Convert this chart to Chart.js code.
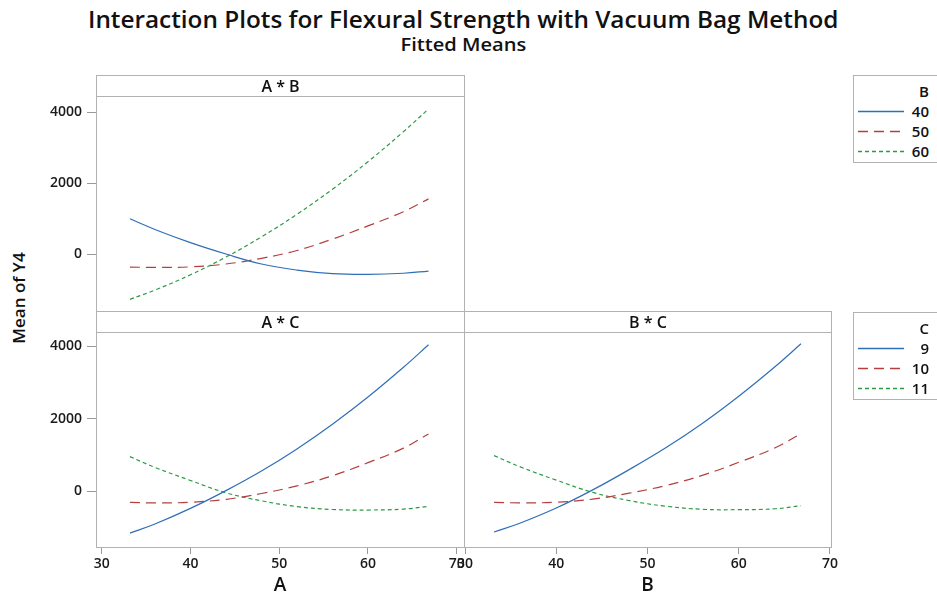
<!DOCTYPE html>
<html>
<head>
<meta charset="utf-8">
<script src="https://cdn.jsdelivr.net/npm/chart.js@4.4.1/dist/chart.umd.min.js"></script>
<style>
  body { margin: 0; background: #fff; width: 937px; height: 599px; position: relative; overflow: hidden; font-family: "Open Sans", sans-serif; color: #111; }
  canvas { position: absolute; }
  .txt { position: absolute; white-space: nowrap; font-weight: 600; }
  .frame { position: absolute; border: 1px solid #b2b2b2; box-sizing: border-box; pointer-events: none; }
  .strip { position: absolute; left: 0; right: 0; top: 0; height: 21px; border-bottom: 1px solid #b2b2b2; box-sizing: border-box; text-align: center; font-weight: 600; font-size: 16px; line-height: 20px; }
  .legend { position: absolute; left: 853px; width: 95px; height: 88px; border: 1px solid #b2b2b2; box-sizing: border-box; font-weight: 600; font-size: 15px; }
  .legend .row { position: absolute; left: 0; width: 75px; height: 20px; }
  .legend .row span { position: absolute; right: 0; top: 0; line-height: 20px; }
  .legend canvas { position: absolute; left: 4px; top: 4px; }
</style>
</head>
<body>
<div class="txt" id="title" style="top:2px;font-size:24px">Interaction Plots for Flexural Strength with Vacuum Bag Method</div>
<div class="txt" id="subtitle" style="top:32px;font-size:18px">Fitted Means</div>
<div class="txt" id="ytitle" style="font-size:17px;left:18px;top:298px;transform:translate(-50%,-50%) rotate(-90deg)">Mean of Y4</div>

<canvas id="cAB" width="470" height="250" style="left:0;top:70px"></canvas>
<canvas id="cAC" width="480" height="299" style="left:0;top:300px"></canvas>
<canvas id="cBC" width="493" height="299" style="left:444px;top:300px"></canvas>

<div class="frame" style="left:96px;top:75px;width:369px;height:237px"><div class="strip">A * B</div></div>
<div class="frame" style="left:96px;top:311px;width:369px;height:237px"><div class="strip">A * C</div></div>
<div class="frame" style="left:464px;top:311px;width:368px;height:237px"><div class="strip">B * C</div></div>

<div class="legend" id="legB" style="top:75px"></div>
<div class="legend" id="legC" style="top:312px"></div>

<script>
// factor levels on the horizontal axes
const xLevels = [33.18, 36, 40, 44, 48, 52, 56, 60, 64, 66.82];
const xTicks = [30, 40, 50, 60, 70];
const yTicks = [0, 2000, 4000];

// A * B panel, one curve per level of B
const abB40 = [1000, 700, 330, 10, -270, -440, -540, -562, -530, -468];
const abB50 = [-356, -365, -350, -270, -110, 110, 430, 800, 1200, 1560];
const abB60 = [-1262, -1002, -573, -75, 491, 1127, 1831, 2605, 3448, 4084];

// A * C panel, one curve per level of C
const acC9 = [-1150, -900, -470, 20, 560, 1170, 1850, 2600, 3420, 4040];
const acC10 = [-305, -320, -300, -220, -60, 150, 430, 790, 1190, 1580];
const acC11 = [957, 660, 300, -40, -260, -420, -500, -515, -490, -414];

// B * C panel, one curve per level of C
const bcC9 = [-1121, -880, -460, 40, 600, 1200, 1870, 2620, 3440, 4066];
const bcC10 = [-303, -318, -300, -215, -50, 160, 440, 800, 1200, 1592];
const bcC11 = [985, 680, 310, -30, -255, -410, -495, -505, -480, -395];

const levelsB = ['40', '50', '60'];
const levelsC = ['9', '10', '11'];

const styles = [
  { color: '#2f6fb8', dash: [] },
  { color: '#b3403f', dash: [10, 6] },
  { color: '#2b9a44', dash: [4, 3] }
];

const FONT = '"Open Sans", sans-serif';

function makeSets(labels, series) {
  return series.map((vals, i) => ({
    label: labels[i],
    data: vals.map((v, j) => ({ x: xLevels[j], y: v })),
    borderColor: styles[i].color,
    borderDash: styles[i].dash,
    borderWidth: 1.2,
    pointRadius: 0,
    tension: 0.4,
    fill: false
  }));
}

function panel(id, o) {
  return new Chart(document.getElementById(id), {
    type: 'line',
    data: { datasets: makeSets(o.labels, o.series) },
    options: {
      responsive: false,
      animation: false,
      devicePixelRatio: 1,
      layout: { padding: o.padding },
      plugins: { legend: { display: false }, tooltip: { enabled: false } },
      scales: {
        x: {
          type: 'linear',
          min: o.xMin, max: o.xMax,
          display: o.showX,
          afterBuildTicks: s => { s.ticks = xTicks.map(v => ({ value: v })); },
          afterFit: s => { s.height = o.showX ? 52 : 0; s.paddingLeft = 0; s.paddingRight = 0; },
          ticks: { callback: v => String(v), font: { family: FONT, size: 14, weight: '600' }, color: '#1a1a1a', padding: 2, maxRotation: 0 },
          grid: { display: true, drawOnChartArea: false, drawTicks: true, tickLength: 7, color: '#999' },
          border: { display: false },
          title: { display: o.showX, text: o.xTitle, font: { family: FONT, size: 19, weight: '600' }, color: '#111', padding: { top: 0, bottom: 2 } }
        },
        y: {
          type: 'linear',
          min: o.yMin, max: o.yMax,
          afterBuildTicks: s => { s.ticks = yTicks.map(v => ({ value: v })); },
          afterFit: s => { s.width = o.yWidth; s.paddingTop = 0; s.paddingBottom = 0; },
          ticks: { display: o.showY, callback: v => String(v), font: { family: FONT, size: 14, weight: '600' }, color: '#1a1a1a', padding: 5 },
          grid: { display: o.showY, drawOnChartArea: false, drawTicks: true, tickLength: 9, color: '#999' },
          border: { display: false }
        }
      }
    }
  });
}

const chAB = panel('cAB', {
  labels: levelsB, series: [abB40, abB50, abB60],
  xMin: 29.36, xMax: 70.82, yMin: -1590, yMax: 4450,
  showX: false, showY: true, yWidth: 96, xTitle: '',
  padding: { left: 0, right: 6, top: 26, bottom: 9 }
});
const chAC = panel('cAC', {
  labels: levelsC, series: [acC9, acC10, acC11],
  xMin: 29.36, xMax: 70.82, yMin: -1534, yMax: 4419,
  showX: true, showY: true, yWidth: 96, xTitle: 'A',
  padding: { left: 0, right: 16, top: 31, bottom: 0 }
});
const chBC = panel('cBC', {
  labels: levelsC, series: [bcC9, bcC10, bcC11],
  xMin: 29.89, xMax: 70.11, yMin: -1534, yMax: 4419,
  showX: true, showY: false, yWidth: 20, xTitle: 'B',
  padding: { left: 0, right: 106, top: 31, bottom: 0 }
});

// legends built from the chart datasets
function legend(boxId, heading, chart) {
  const box = document.getElementById(boxId);
  const head = document.createElement('div');
  head.className = 'row';
  head.style.top = '5px';
  head.innerHTML = '<span>' + heading + '</span>';
  box.appendChild(head);
  chart.data.datasets.forEach((ds, i) => {
    const row = document.createElement('div');
    row.className = 'row';
    row.style.top = (25 + i * 20) + 'px';
    const c = document.createElement('canvas');
    c.width = 46; c.height = 12;
    const g = c.getContext('2d');
    g.strokeStyle = ds.borderColor;
    g.lineWidth = 1.5;
    g.setLineDash(ds.borderDash);
    g.beginPath(); g.moveTo(0, 6.5); g.lineTo(46, 6.5); g.stroke();
    row.appendChild(c);
    const s = document.createElement('span');
    s.textContent = ds.label;
    row.appendChild(s);
    box.appendChild(row);
  });
}
legend('legB', 'B', chAB);
legend('legC', 'C', chAC);

// centre and fit the titles
function fit(id, width, cx) {
  const el = document.getElementById(id);
  const w = el.offsetWidth;
  const k = width / w;
  el.style.left = (cx - w / 2) + 'px';
  el.style.transform = 'scaleX(' + k + ')';
}
fit('title', 750, 463);
fit('subtitle', 126, 463);
</script>
</body>
</html>
